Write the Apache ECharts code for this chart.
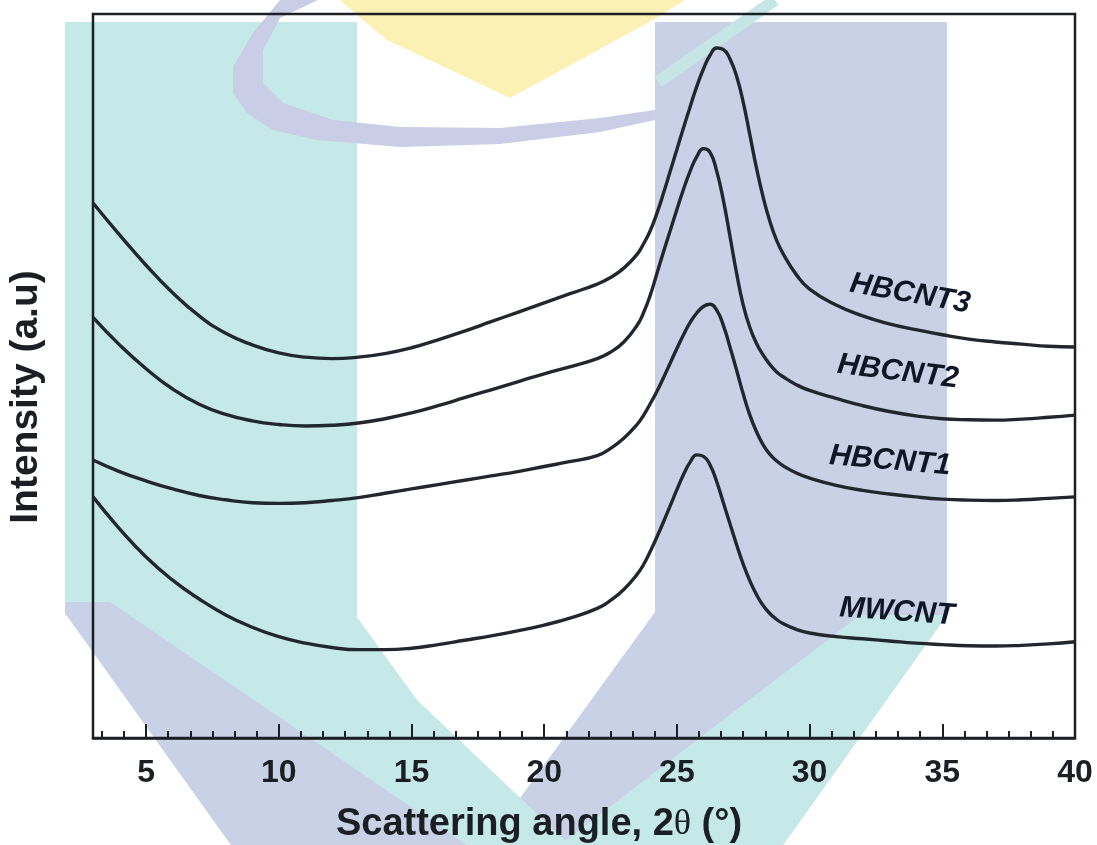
<!DOCTYPE html>
<html>
<head>
<meta charset="utf-8">
<script src="https://cdn.jsdelivr.net/npm/echarts@6/dist/echarts.min.js"></script>
<style>
  html, body { margin: 0; padding: 0; background: #ffffff; }
  #chart { width: 1097px; height: 845px; }
</style>
</head>
<body>
<div id="chart"></div>
<script>
// Axis range and tick labels (scattering angle 2θ, degrees)
const xMin = 3;
const xMax = 40;
const majorTicks = [5, 10, 15, 20, 25, 30, 35, 40];

// Sampling angles (denser around the graphite (002) reflection)
const angles = [
  3, 4, 5, 6, 7, 8, 9, 10, 11, 12, 13, 14, 15, 16, 17, 18, 19, 20, 21, 22,
  22.5, 23, 23.5,
  23.75, 24, 24.25, 24.5, 24.75, 25, 25.25, 25.5, 25.75, 26, 26.25, 26.5, 26.75,
  27, 27.25, 27.5, 27.75, 28, 28.25, 28.5, 28.75, 29,
  29.5, 30,
  31, 32, 33, 34, 35, 36, 37, 38, 39, 40
];

// Intensities (a.u.), stacked with vertical offsets
const HBCNT3 = [
  73.9, 69.5, 65.3, 61.5, 58.3, 55.9, 54.3, 53.2, 52.6, 52.4, 52.6, 53.1, 53.9, 55.0, 56.2, 57.5, 58.8, 60.1, 61.4, 62.7,
  63.6, 64.9, 66.8,
  68.3, 70.1, 72.5, 75.3, 78.3, 81.3, 84.3, 87.2, 90.0, 92.4, 94.3, 95.3, 95.1,
  93.8, 91.4, 87.8, 83.3, 78.7, 74.7, 71.4, 68.8, 66.9,
  64.0, 62.0,
  59.8, 58.3, 57.2, 56.4, 55.7, 55.1, 54.7, 54.4, 54.1, 54.0
];
const HBCNT2 = [
  58.1, 54.3, 51.0, 48.2, 46.1, 44.7, 43.8, 43.3, 43.1, 43.2, 43.5, 44.1, 44.9, 45.9, 47.0, 48.1, 49.2, 50.3, 51.3, 52.4,
  53.3, 54.7, 57.0,
  58.8, 61.2, 64.2, 67.2, 70.1, 73.0, 75.8, 78.3, 80.3, 81.4, 80.9, 78.3, 74.3,
  69.3, 64.2, 59.8, 56.7, 54.5, 52.9, 51.6, 50.6, 49.9,
  48.8, 48.0,
  46.9, 45.9, 45.1, 44.5, 44.1, 43.95, 43.9, 44.05, 44.3, 44.6
];
const HBCNT1 = [
  38.4, 36.8, 35.5, 34.4, 33.5, 32.9, 32.5, 32.4, 32.5, 32.8, 33.2, 33.8, 34.4, 35.0, 35.6, 36.2, 36.8, 37.5, 38.2, 39.0,
  40.0, 41.4, 43.3,
  44.6, 46.2, 47.9, 49.8, 51.8, 53.8, 55.7, 57.4, 58.7, 59.6, 59.9, 59.1, 57.0,
  54.0, 50.8, 47.5, 44.6, 42.3, 40.5, 39.2, 38.3, 37.6,
  36.6, 35.9,
  34.9, 34.2, 33.7, 33.3, 33.0, 32.85, 32.8, 32.9, 33.1, 33.3
];
const MWCNT = [
  33.3, 28.9, 25.0, 21.8, 19.2, 17.0, 15.3, 14.0, 13.1, 12.5, 12.2, 12.2, 12.4, 12.9, 13.5, 14.1, 14.8, 15.6, 16.6, 17.9,
  19.0, 20.5, 22.6,
  24.0, 25.8, 27.8, 29.9, 32.1, 34.3, 36.4, 38.1, 39.1, 38.9, 37.7, 35.4, 32.5,
  29.6, 26.7, 24.0, 21.7, 19.8, 18.3, 17.2, 16.4, 15.8,
  15.0, 14.5,
  14.0, 13.7, 13.4, 13.1, 12.9, 12.75, 12.7, 12.8, 13.0, 13.3
];

const seriesList = [
  { name: 'HBCNT3', values: HBCNT3 },
  { name: 'HBCNT2', values: HBCNT2 },
  { name: 'HBCNT1', values: HBCNT1 },
  { name: 'MWCNT', values: MWCNT }
];

// Minor ticks: each 5° major step is split into six parts
const minorTicks = [];
for (let k = -2; 5 + k * 5 / 6 <= xMax + 1e-9; k++) {
  if (k % 6 === 0) continue;
  const v = 5 + k * 5 / 6;
  if (v > xMin) minorTicks.push(+v.toFixed(4));
}

const INK = '#1c1f24';
const TEXT = '#1b1e22';
const FONT = '"Liberation Sans", Arial, sans-serif';

// Curve name tags, placed beside each tail and tilted along it
const curveTags = [
  { text: 'HBCNT3', x: 910, y: 294, angle: 10 },
  { text: 'HBCNT2', x: 898, y: 372, angle: 7 },
  { text: 'HBCNT1', x: 890, y: 461, angle: 5 },
  { text: 'MWCNT',  x: 897, y: 612, angle: 4 }
];

// Pale logo shapes behind the plot
const TEAL = '#c5e9e8';
const BLUE = '#c9d1e6';
const backdrop = [
  { type: 'polygon', z: -3, shape: { points: [[655, 22], [947, 22], [947, 615], [783, 845], [486, 845], [655, 612]] }, style: { fill: BLUE } },
  { type: 'polygon', z: -2, shape: { points: [[860, 615], [947, 615], [783, 845], [560, 845]] }, style: { fill: TEAL } },
  { type: 'polygon', z: -2, shape: { points: [[65, 22], [357, 22], [357, 617], [417, 700], [570, 845], [231, 845], [65, 613]] }, style: { fill: TEAL } },
  { type: 'polygon', z: -1, shape: { points: [[65, 602], [110, 602], [467, 845], [231, 845], [65, 613]] }, style: { fill: BLUE } },
  { type: 'polygon', z: -2, shape: { points: [[340, 0], [685, 0], [653, 20], [510, 98], [387, 40], [363, 20]] }, style: { fill: '#fcf1b4' } },
  { type: 'polygon', z: -1, shape: { points: [
      [280, 0], [253, 33], [233, 67], [233, 93], [247, 113], [273, 130], [317, 140], [400, 147],
      [500, 144], [600, 132], [655, 120], [655, 110], [600, 118], [500, 128], [400, 127],
      [333, 120], [283, 103], [263, 83], [263, 50], [280, 18], [318, 0]] }, style: { fill: '#c9cde6' } },
  { type: 'line', z: -1, shape: { x1: 775, y1: 0, x2: 658, y2: 82 }, style: { stroke: '#c6e6e6', lineWidth: 12 } }
];

const tagElements = curveTags.map(t => ({
  type: 'text',
  z: 10,
  x: t.x,
  y: t.y,
  rotation: -t.angle * Math.PI / 180,
  style: {
    text: t.text,
    fill: '#0f1626',
    font: 'italic bold 30px ' + FONT,
    align: 'center',
    verticalAlign: 'middle'
  }
}));

const chart = echarts.init(document.getElementById('chart'), null, { renderer: 'canvas' });

chart.setOption({
  animation: false,
  backgroundColor: '#ffffff',
  grid: {
    left: 93, top: 14, right: 22, bottom: 107,
    containLabel: false,
    outerBoundsMode: 'none',
    show: true,
    borderColor: INK,
    borderWidth: 2.5,
    backgroundColor: 'transparent'
  },
  xAxis: [
    {
      type: 'value',
      min: xMin,
      max: xMax,
      position: 'bottom',
      axisLine: { show: true, lineStyle: { color: INK, width: 2.5 } },
      axisTick: { show: true, inside: true, length: 14, customValues: majorTicks, lineStyle: { color: INK, width: 2 } },
      axisLabel: {
        show: true,
        customValues: majorTicks,
        margin: 19,
        color: TEXT,
        fontSize: 32,
        fontWeight: 'bold',
        fontFamily: FONT
      },
      splitLine: { show: false },
      name: 'Scattering angle, 2{th|θ} (°)',
      nameLocation: 'middle',
      nameGap: 68,
      nameTextStyle: {
        color: TEXT,
        fontSize: 38,
        fontWeight: 'bold',
        fontFamily: FONT,
        padding: [0, 90, 0, 0],
        rich: {
          th: { fontSize: 36, fontWeight: 'normal', fontFamily: '"Liberation Serif", "DejaVu Serif", serif', color: TEXT }
        }
      }
    },
    {
      type: 'value',
      min: xMin,
      max: xMax,
      position: 'bottom',
      axisLine: { show: false },
      axisTick: { show: true, inside: true, length: 7, customValues: minorTicks, lineStyle: { color: INK, width: 2 } },
      axisLabel: { show: false, customValues: minorTicks },
      splitLine: { show: false }
    }
  ],
  yAxis: {
    type: 'value',
    min: 0,
    max: 100,
    axisLine: { show: false },
    axisTick: { show: false },
    axisLabel: { show: false },
    splitLine: { show: false },
    name: 'Intensity (a.u)',
    nameLocation: 'middle',
    nameGap: 47,
    nameTextStyle: {
      color: TEXT,
      fontSize: 39,
      fontWeight: 'bold',
      fontFamily: FONT,
      padding: [0, 42, 0, 0]
    }
  },
  series: seriesList.map(s => ({
    name: s.name,
    type: 'line',
    xAxisIndex: 0,
    data: angles.map((a, i) => [a, s.values[i]]),
    showSymbol: false,
    smooth: 0.5,
    z: 3,
    lineStyle: { color: '#22272e', width: 3.4 }
  })),
  graphic: { elements: backdrop.concat(tagElements) }
});
</script>
</body>
</html>
